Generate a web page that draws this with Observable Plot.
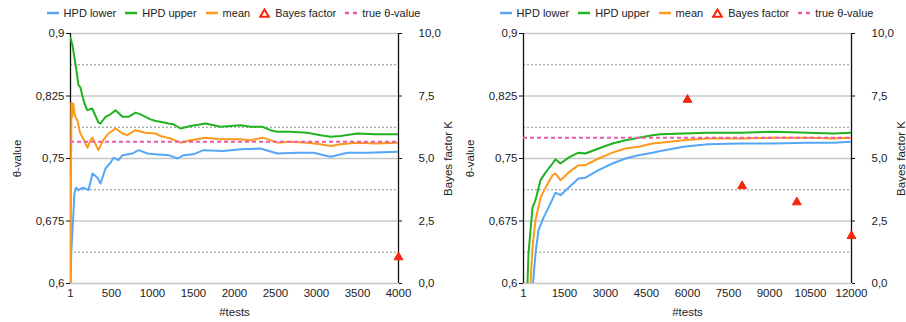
<!DOCTYPE html>
<html><head><meta charset="utf-8">
<script src="https://cdn.jsdelivr.net/npm/d3@7"></script>
<script src="https://cdn.jsdelivr.net/npm/@observablehq/plot@0.6"></script>
<style>
body{margin:0;background:#fff;font-family:"Liberation Sans",Arial,Helvetica,sans-serif;}
#wrap{display:flex;width:906px;height:322px;overflow:hidden;}
.panel{width:453px;position:relative;}
.legend{height:26px;display:flex;align-items:center;justify-content:center;font-size:11px;color:#222;white-space:nowrap;padding-left:14px;box-sizing:border-box;}
.item{display:flex;align-items:center;margin:0 4.5px;}
.item svg{margin-right:5px;}
</style></head><body><div id="wrap"></div><script>
// ---------- data ----------
const legendLabels = ["HPD lower", "HPD upper", "mean", "Bayes factor", "true θ-value"];
const thetaTicks = [0.6, 0.675, 0.75, 0.825, 0.9];
const thetaMinor = [0.6375, 0.7125, 0.7875, 0.8625];
const kTickLabels = ["0,0", "2,5", "5,0", "7,5", "10,0"];
const kMax = 10;

// left panel (#tests 1..4000)
const leftXTicks = [1, 500, 1000, 1500, 2000, 2500, 3000, 3500, 4000];
const leftTrueTheta = 0.77;
const leftLower = [[1,0.600],[12,0.640],[25,0.663],[50,0.709],[70,0.715],[98,0.712],[135,0.714],[160,0.715],[220,0.712],[270,0.732],[330,0.727],[367,0.720],[428,0.738],[489,0.745],[525,0.751],[586,0.748],[635,0.754],[757,0.756],[830,0.760],[940,0.756],[1037,0.755],[1196,0.754],[1306,0.750],[1379,0.754],[1500,0.755],[1622,0.760],[1866,0.759],[2073,0.761],[2317,0.762],[2524,0.756],[2768,0.757],[2963,0.757],[3171,0.752],[3378,0.757],[3622,0.757],[4000,0.758]];
const leftUpper = [[1,0.895],[25,0.886],[50,0.870],[70,0.858],[98,0.838],[123,0.835],[144,0.826],[172,0.816],[205,0.808],[266,0.810],[342,0.793],[367,0.792],[428,0.800],[489,0.803],[550,0.808],[635,0.800],[708,0.800],[793,0.805],[854,0.803],[915,0.800],[976,0.797],[1037,0.795],[1098,0.794],[1196,0.792],[1257,0.791],[1342,0.786],[1464,0.789],[1647,0.792],[1744,0.790],[1830,0.788],[1952,0.789],[2073,0.790],[2195,0.788],[2342,0.788],[2439,0.784],[2524,0.782],[2683,0.782],[2890,0.781],[3049,0.778],[3171,0.776],[3293,0.777],[3500,0.780],[3719,0.779],[4000,0.779]];
const leftMean = [[1,0.600],[12,0.817],[25,0.800],[35,0.816],[50,0.805],[60,0.800],[85,0.796],[110,0.784],[122,0.780],[150,0.775],[208,0.763],[245,0.772],[270,0.775],[340,0.760],[400,0.772],[465,0.780],[550,0.786],[635,0.780],[695,0.778],[793,0.784],[915,0.781],[1037,0.780],[1098,0.777],[1220,0.774],[1342,0.769],[1464,0.772],[1647,0.775],[1830,0.773],[2073,0.773],[2195,0.772],[2342,0.775],[2439,0.772],[2524,0.769],[2683,0.770],[2890,0.769],[3049,0.767],[3171,0.765],[3293,0.767],[3500,0.769],[3719,0.768],[4000,0.769]];
const leftBayes = [[4000, 1.05]];

// right panel (#tests 1..12000)
const rightXTicks = [1, 1500, 3000, 4500, 6000, 7500, 9000, 10500, 12000];
const rightTrueTheta = 0.775;
const rightLower = [[350,0.600],[440,0.636],[550,0.664],[733,0.679],[916,0.691],[1172,0.709],[1354,0.706],[1647,0.715],[2013,0.726],[2269,0.727],[2745,0.736],[3257,0.744],[3732,0.750],[4208,0.754],[4720,0.757],[5012,0.759],[5854,0.764],[6732,0.767],[7939,0.768],[9146,0.768],[10390,0.769],[11341,0.769],[12000,0.770]];
const rightUpper = [[147,0.600],[184,0.636],[330,0.691],[440,0.700],[623,0.724],[806,0.733],[1062,0.744],[1172,0.749],[1354,0.744],[1647,0.751],[2013,0.757],[2269,0.756],[2745,0.762],[3257,0.768],[3732,0.772],[4208,0.775],[4720,0.778],[5012,0.779],[5854,0.780],[6732,0.781],[7939,0.781],[9146,0.782],[10390,0.781],[11341,0.780],[12000,0.781]];
const rightMean = [[257,0.600],[330,0.643],[440,0.676],[623,0.703],[806,0.715],[1062,0.730],[1172,0.732],[1354,0.724],[1647,0.733],[2013,0.742],[2269,0.742],[2745,0.750],[3257,0.757],[3732,0.762],[4208,0.764],[4720,0.768],[5012,0.769],[5854,0.772],[6732,0.774],[7939,0.774],[9146,0.775],[10390,0.775],[11341,0.774],[12000,0.775]];
const rightBayes = [[6000, 7.35], [8000, 3.9], [10000, 3.25], [12000, 1.9]];

// ---------- style ----------
const C = {lower:"#55a6f7", upper:"#1fb31f", mean:"#fb9a1c", bayes:"#f7260d", truth:"#ec5aa9"};
const FONT = '"Liberation Sans", Arial, Helvetica, sans-serif';
const th0 = thetaTicks[0], th1 = thetaTicks[thetaTicks.length-1];
const kToTheta = k => th0 + (k / kMax) * (th1 - th0);
const fmtTheta = d => String(+d.toFixed(3)).replace(".", ",");

function legend() {
  const L = document.createElement("div"); L.className = "legend";
  const kinds = [["line", C.lower], ["line", C.upper], ["line", C.mean], ["tri", C.bayes], ["dash", C.truth]];
  kinds.forEach(([k, col], i) => {
    const it = document.createElement("div"); it.className = "item";
    let sw;
    if (k === "line") sw = `<svg width="12" height="10"><line x1="0" x2="12" y1="5" y2="5" stroke="${col}" stroke-width="2.5"/></svg>`;
    else if (k === "dash") sw = `<svg width="12" height="10"><line x1="0" x2="12" y1="5" y2="5" stroke="${col}" stroke-width="2.5" stroke-dasharray="4,4"/></svg>`;
    else sw = `<svg width="11" height="10"><polygon points="5.5,1.5 9.8,8.8 1.2,8.8" fill="#fff" stroke="${col}" stroke-width="2"/></svg>`;
    it.innerHTML = sw + `<span>${legendLabels[i]}</span>`;
    L.appendChild(it);
  });
  return L;
}

function panel(xTicks, trueTheta, lower, upper, mean, bayes) {
  const div = document.createElement("div"); div.className = "panel";
  div.appendChild(legend());
  const xd = [xTicks[0], xTicks[xTicks.length-1]];
  const p = Plot.plot({
    width: 453, height: 296,
    marginLeft: 70, marginRight: 55, marginTop: 7, marginBottom: 39,
    style: {fontFamily: FONT, fontSize: "11.5px", color: "#222", background: "transparent", overflow: "visible"},
    x: {type: "linear", domain: xd},
    y: {type: "linear", domain: [th0, th1]},
    marks: [
      Plot.ruleY(thetaMinor, {stroke: "#8c8c8c", strokeWidth: 1, strokeDasharray: "2,2"}),
      Plot.ruleY(thetaTicks, {stroke: "#c8c8c8", strokeWidth: 1.6}),
      Plot.ruleX(xd, {stroke: "#111", strokeWidth: 1.3}),
      Plot.axisY({anchor: "left", ticks: thetaTicks, tickFormat: fmtTheta, tickSize: 4, tickPadding: 2,
        label: "θ-value", labelAnchor: "center", labelOffset: 58, labelArrow: "none", stroke: "#111"}),
      Plot.axisY({anchor: "right", ticks: thetaTicks, tickFormat: (d, i) => kTickLabels[i], tickSize: 3, tickPadding: 17,
        label: "Bayes factor K", labelAnchor: "center", labelOffset: 53, labelArrow: "none", stroke: "#111"}),
      Plot.axisX({anchor: "bottom", ticks: xTicks, tickFormat: d => String(d), tickSize: 0, tickPadding: 5,
        label: "#tests", labelAnchor: "center", labelOffset: 32, labelArrow: "none"}),
      Plot.line(lower, {x: d => d[0], y: d => d[1], stroke: C.lower, strokeWidth: 2, clip: true}),
      Plot.line(upper, {x: d => d[0], y: d => d[1], stroke: C.upper, strokeWidth: 2, clip: true}),
      Plot.line(mean, {x: d => d[0], y: d => d[1], stroke: C.mean, strokeWidth: 2, clip: true}),
      Plot.ruleY([trueTheta], {stroke: C.truth, strokeWidth: 2, strokeDasharray: "4,3"}),
      Plot.dot(bayes, {x: d => d[0], y: d => kToTheta(d[1]), symbol: "triangle", r: 3.3, fill: C.bayes, stroke: C.bayes, strokeWidth: 1})
    ]
  });
  div.appendChild(p);
  return div;
}

const wrap = document.getElementById("wrap");
wrap.appendChild(panel(leftXTicks, leftTrueTheta, leftLower, leftUpper, leftMean, leftBayes));
wrap.appendChild(panel(rightXTicks, rightTrueTheta, rightLower, rightUpper, rightMean, rightBayes));
</script></body></html>
